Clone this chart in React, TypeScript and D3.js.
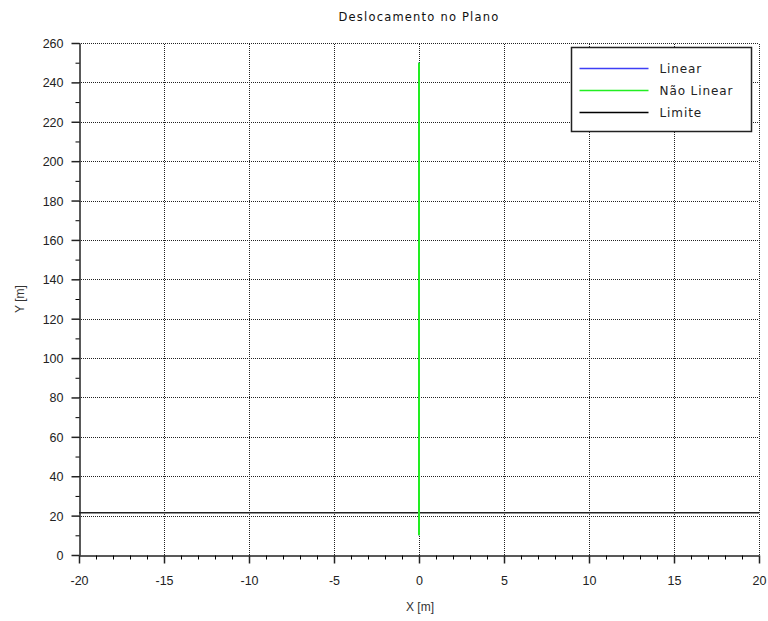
import React, { useRef, useEffect } from 'react';
import * as d3 from 'd3';

// Trajectory data (x, y)
const linearX = [0, 0];
const linearY = [10, 250];
const naoLinearX = [0, 0];
const naoLinearY = [10, 250];
const limiteX = [-20, 20];
const limiteY = [21.5, 21.5];

const xTicks = [-20, -15, -10, -5, 0, 5, 10, 15, 20];
const yTicks = [0, 20, 40, 60, 80, 100, 120, 140, 160, 180, 200, 220, 240, 260];

const legendItems = [
  { label: 'Linear', color: '#3f3ff5' },
  { label: 'Não Linear', color: '#22ee22' },
  { label: 'Limite', color: '#000000' },
];

const App = () => {
  const ref = useRef<SVGSVGElement>(null);

  useEffect(() => {
    const svg = d3.select(ref.current);
    svg.selectAll('*').remove();

    const width = 768;
    const height = 621;
    const margin = { top: 43, right: 9, bottom: 66, left: 79 };
    const font = 'DejaVu Sans, sans-serif';
    const tickFont = 'Liberation Sans, Arial, sans-serif';

    const x = d3.scaleLinear().domain([-20, 20]).range([margin.left, width - margin.right]);
    const y = d3.scaleLinear().domain([0, 260]).range([height - margin.bottom, margin.top]);

    svg.append('rect').attr('width', width).attr('height', height).attr('fill', '#fff');

    // grid
    const grid = svg.append('g').attr('stroke', '#222').attr('stroke-width', 1).attr('stroke-dasharray', '1,1');
    xTicks.slice(1).forEach(t => {
      grid.append('line')
        .attr('x1', Math.round(x(t)) + 0.5).attr('x2', Math.round(x(t)) + 0.5)
        .attr('y1', y(0)).attr('y2', y(260));
    });
    yTicks.slice(1).forEach(t => {
      grid.append('line')
        .attr('x1', x(-20)).attr('x2', x(20))
        .attr('y1', Math.round(y(t)) + 0.5).attr('y2', Math.round(y(t)) + 0.5);
    });

    // axes
    const xAxis = svg.append('g')
      .attr('transform', `translate(0,${Math.round(y(0)) + 0.5})`)
      .call(d3.axisBottom(x).tickValues(xTicks).tickSize(8).tickSizeOuter(0).tickFormat(d => String(d)));
    svg.append('g')
      .attr('transform', `translate(0,${Math.round(y(0)) + 0.5})`)
      .call(d3.axisBottom(x).tickValues(d3.range(-20, 21, 1).filter(v => v % 5 !== 0)).tickSize(4).tickFormat(() => ''))
      .call(g => g.select('.domain').remove());
    const yAxis = svg.append('g')
      .attr('transform', `translate(${Math.round(x(-20)) + 0.5},0)`)
      .call(d3.axisLeft(y).tickValues(yTicks).tickSize(8).tickSizeOuter(0).tickFormat(d => String(d)));
    svg.append('g')
      .attr('transform', `translate(${Math.round(x(-20)) + 0.5},0)`)
      .call(d3.axisLeft(y).tickValues(d3.range(10, 260, 20)).tickSize(4).tickFormat(() => ''))
      .call(g => g.select('.domain').remove());

    [xAxis, yAxis].forEach(g => {
      g.select('.domain').attr('stroke', '#222').attr('stroke-width', 1.5);
      g.selectAll('.tick line').attr('stroke', '#222').attr('stroke-width', 1.5);
      g.selectAll('.tick text').attr('font-family', tickFont).attr('font-size', 12.5).attr('fill', '#222');
    });
    xAxis.selectAll('.tick text').attr('y', 29).attr('dy', 0);
    yAxis.selectAll('.tick text').attr('x', -16).attr('dy', '0.36em');

    const line = d3.line<number>();

    // limit
    svg.append('path')
      .attr('d', line(limiteX.map((v, i) => [x(v), y(limiteY[i])] as [number, number])))
      .attr('stroke', '#222').attr('stroke-width', 1.5).attr('fill', 'none');

    svg.append('path')
      .attr('d', line(linearX.map((v, i) => [x(v), y(linearY[i])] as [number, number])))
      .attr('stroke', legendItems[0].color).attr('stroke-width', 2).attr('fill', 'none');
    svg.append('path')
      .attr('d', line(naoLinearX.map((v, i) => [x(v), y(naoLinearY[i])] as [number, number])))
      .attr('stroke', legendItems[1].color).attr('stroke-width', 2).attr('fill', 'none');

    // legend
    const lg = svg.append('g').attr('transform', 'translate(571.5,47.5)');
    lg.append('rect').attr('width', 180).attr('height', 84).attr('fill', '#fff').attr('stroke', '#222').attr('stroke-width', 1.5);
    legendItems.forEach((d, i) => {
      const yy = 21 + i * 22;
      lg.append('line').attr('x1', 8).attr('x2', 77).attr('y1', yy).attr('y2', yy)
        .attr('stroke', d.color).attr('stroke-width', 1.5);
      lg.append('text').attr('x', 88).attr('y', yy + 4).text(d.label)
        .attr('font-family', font).attr('font-size', 12).attr('fill', '#222').attr('letter-spacing', 0.9);
    });

    // titles
    svg.append('text').attr('x', 419).attr('y', 21).attr('text-anchor', 'middle')
      .attr('font-family', font).attr('font-size', 11.5).attr('fill', '#111').attr('letter-spacing', 1.2)
      .text('Deslocamento no Plano');
    svg.append('text').attr('x', 420).attr('y', 611).attr('text-anchor', 'middle')
      .attr('font-family', tickFont).attr('font-size', 12).attr('fill', '#333')
      .text('X [m]');
    svg.append('text').attr('transform', 'translate(24,299) rotate(-90)').attr('text-anchor', 'middle')
      .attr('font-family', tickFont).attr('font-size', 12).attr('fill', '#333')
      .text('Y [m]');
  }, []);

  return (
    <svg ref={ref} width={768} height={621} style={{ position: 'absolute', left: 0, top: 0 }} />
  );
};

export default App;
